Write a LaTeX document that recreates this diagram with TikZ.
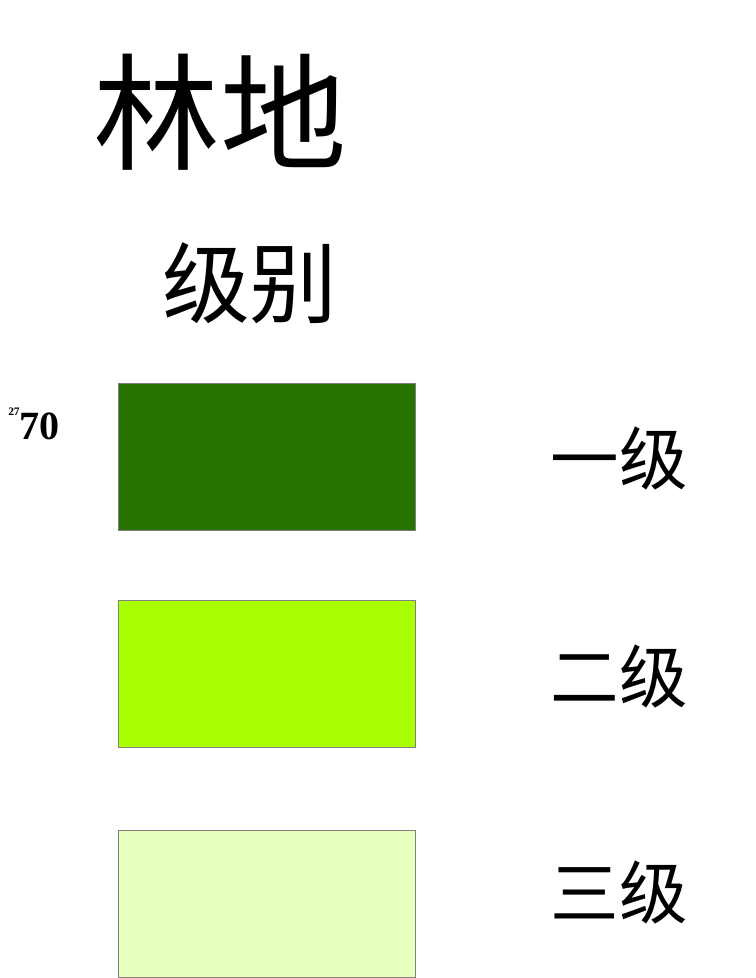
\documentclass[tikz,border=0pt]{standalone}
\usepackage{fontspec}
\usepackage{tikz}
\usetikzlibrary{positioning}
\newfontfamily\cjk{Noto Sans CJK SC}
\newfontfamily\numfont{Liberation Serif}
\definecolor{levelone}{RGB}{38,115,0}
\definecolor{leveltwo}{RGB}{170,255,0}
\definecolor{levelthree}{RGB}{233,255,190}

\begin{document}
\begin{tikzpicture}[
            x = 0.02cm, % one pixel of the reference
            y = -0.02cm,
            inner sep = 0pt
        ]

        \tikzstyle{swatch}=[
            draw = gray,
            line width = 0.5pt,
            minimum width = 5.94cm,
            minimum height = 2.94cm
        ]
        \tikzstyle{grade}=[
            font = \cjk\fontsize{39}{39}\selectfont
        ]

        \useasboundingbox (0,0) rectangle (755,978);

	% headings
        \node (TITLE) at (220,112) {\cjk\fontsize{72}{72}\selectfont 林地};
        \node (SUB) at (250,283) {\cjk\fontsize{50}{50}\selectfont 级别};

        % value
        \node (VAL) at (34,424) {\numfont\bfseries\fontsize{22.8}{23}\selectfont\raisebox{13.5pt}{\fontsize{6.5}{7}\selectfont 27}70};

        % legend boxes
        \node[swatch, fill = levelone] (S1) at (266.5,456.5) {};
        \node[swatch, fill = leveltwo] (S2) at (266.5,673.5) {};
        \node[swatch, fill = levelthree] (S3) at (266.5,903.5) {};

        % legend labels
        \node[grade] (L1) at (619,458) {一级};
        \node[grade] (L2) at (619,676) {二级};
        \node[grade] (L3) at (619,892) {三级};

  \end{tikzpicture}
\end{document}
